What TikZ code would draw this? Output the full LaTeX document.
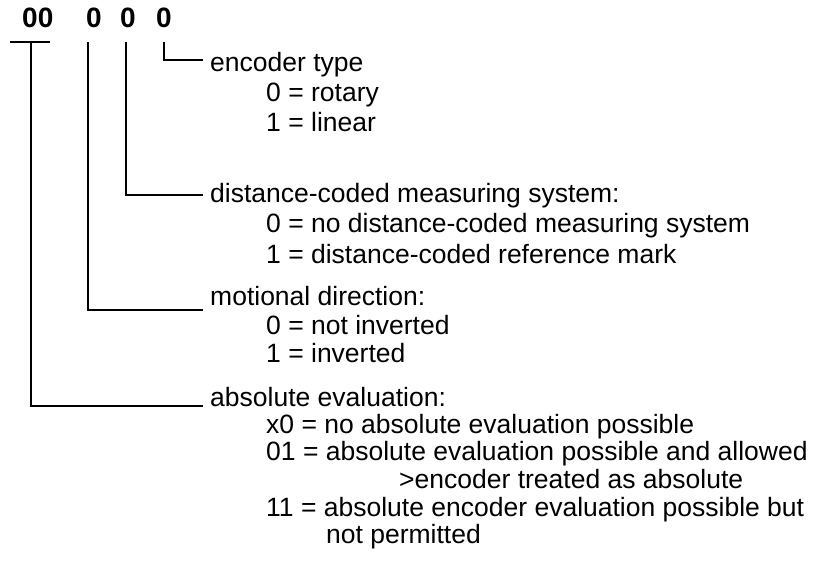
\documentclass[tikz,border=0pt]{standalone}
\usepackage{fontspec}
\setmainfont{Liberation Sans}
\begin{document}
\begin{tikzpicture}[x=1pt,y=-1pt,
  conn/.style={line width=1.3pt},
  txt/.style={anchor=base west, inner sep=0pt, font=\fontsize{26.5}{30}\selectfont},
  hdr/.style={anchor=base west, inner sep=0pt, font=\fontsize{28}{30}\selectfont\bfseries}]
\useasboundingbox (0,0) rectangle (816,564);
% header digits
\node[hdr] (h0) at (22,28) {00};
\node[hdr] (h1) at (86,28) {0};
\node[hdr] (h2) at (120,28) {0};
\node[hdr] (h3) at (156,28) {0};
% group 1
\node[txt] (t1) at (210,72) {encoder type};
\node[txt] (t1a) at (266,102) {0 = rotary};
\node[txt] (t1b) at (266,132) {1 = linear};
% group 2
\node[txt] (t2) at (210,202) {distance-coded measuring system:};
\node[txt] (t2a) at (266,233) {0 = no distance-coded measuring system};
\node[txt] (t2b) at (266,263) {1 = distance-coded reference mark};
% group 3
\node[txt] (t3) at (210,305) {motional direction:};
\node[txt] (t3a) at (266,334) {0 = not inverted};
\node[txt] (t3b) at (266,362) {1 = inverted};
% group 4
\node[txt] (t4) at (210,406) {absolute evaluation:};
\node[txt] (t4a) at (266,433) {x0 = no absolute evaluation possible};
\node[txt] (t4b) at (266,460) {01 = absolute evaluation possible and allowed};
\node[txt] (t4c) at (399,488) {>encoder treated as absolute};
\node[txt] (t4d) at (266,516) {11 = absolute encoder evaluation possible but};
\node[txt] (t4e) at (326,543) {not permitted};
% connector coordinates
\coordinate (barL) at (10,42);
\coordinate (barR) at (50,42);
\coordinate (v0) at (31,42);
\coordinate (v1) at (88,42);
\coordinate (v2) at (126,42);
\coordinate (v3) at (164,42);
\coordinate (e0) at (203,406);
\coordinate (e1) at (203,310);
\coordinate (e2) at (203,195);
\coordinate (e3) at (203,60);
\draw[conn] (barL) -- (barR);
\draw[conn] (v0) |- (e0);
\draw[conn] (v1) |- (e1);
\draw[conn] (v2) |- (e2);
\draw[conn] (v3) |- (e3);
\end{tikzpicture}
\end{document}
